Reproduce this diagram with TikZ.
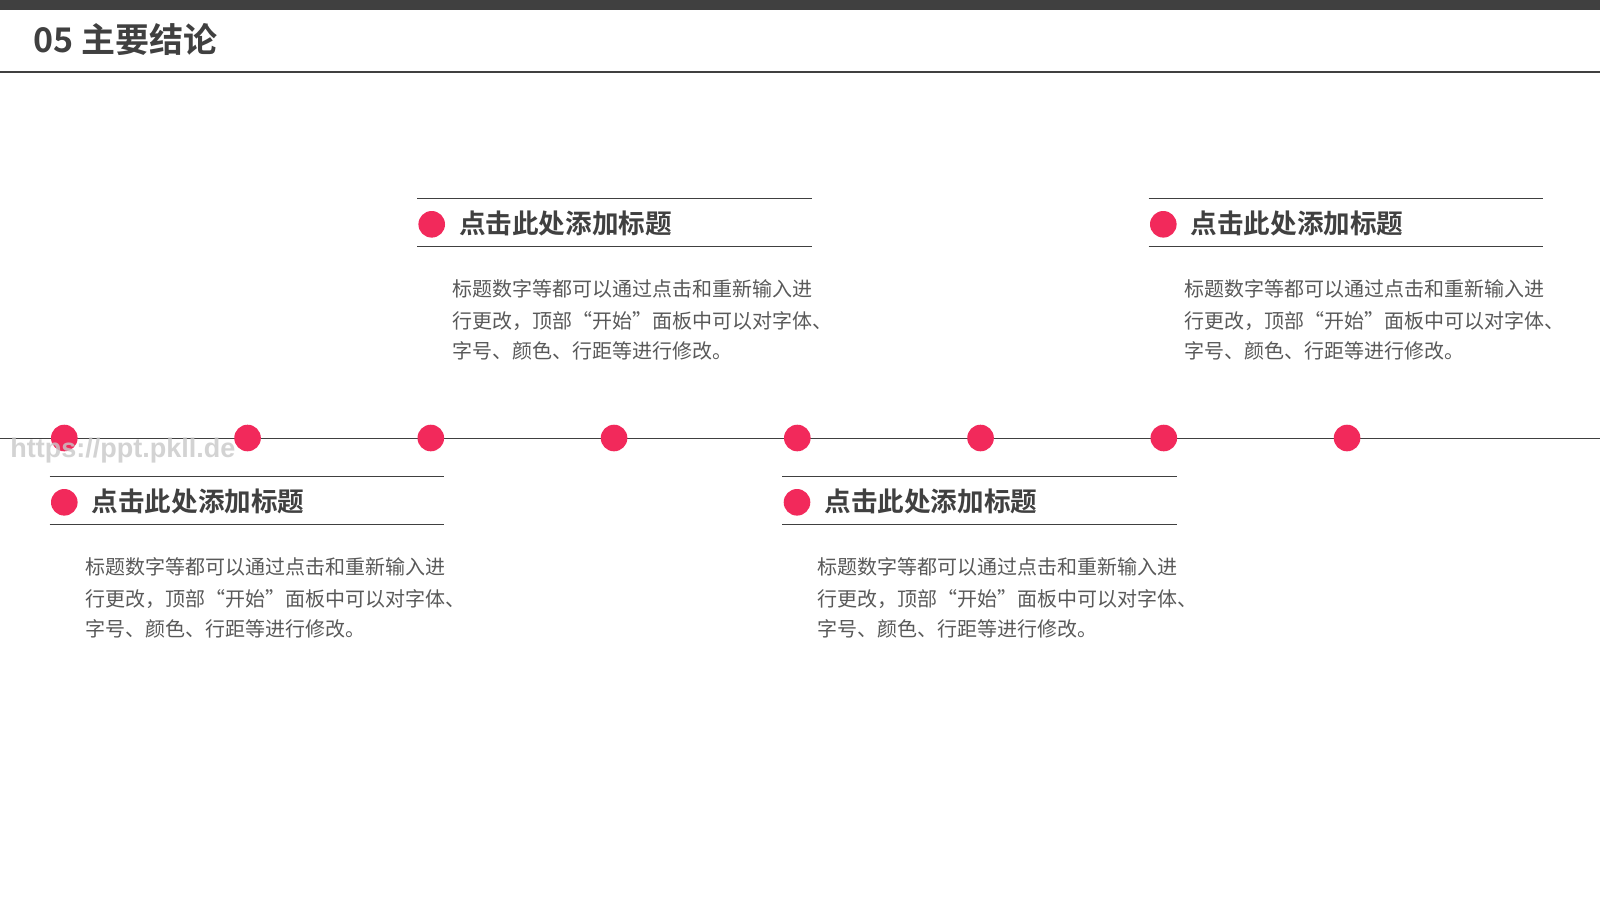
\documentclass[tikz,border=0pt]{standalone}
\usepackage{fontspec}
\setmainfont{Noto Sans CJK SC}[BoldFont={Noto Sans CJK SC Bold}]
\newfontfamily\wmfont{Liberation Sans}
\usetikzlibrary{calc}
\definecolor{accent}{HTML}{F2295B}
\definecolor{linegray}{HTML}{404040}
\definecolor{titlegray}{HTML}{404040}
\definecolor{bodygray}{HTML}{595959}
\definecolor{wmgray}{HTML}{C8C8C8}
\tikzset{
  dotnode/.style={circle,fill=accent,draw=none,minimum size=13.3pt,inner sep=0pt},
  ttlnode/.style={anchor=west,inner sep=0pt,font=\bfseries\fontsize{13.3}{16}\selectfont,text=titlegray},
  bodynode/.style={anchor=west,inner sep=0pt,font=\fontsize{10}{12}\selectfont,text=bodygray},
  rulepath/.style={draw=linegray,line width=0.6pt},
}
\newcommand\infoblock[3]{%
  \begin{scope}[shift={(#2,#3)}]
    \coordinate (#1tl) at (-14.7,-26);
    \coordinate (#1tr) at (380,-26);
    \coordinate (#1bl) at (-14.7,22.5);
    \coordinate (#1br) at (380,22.5);
    \draw[rulepath] (#1tl) -- (#1tr);
    \draw[rulepath] (#1bl) -- (#1br);
    \node[dotnode] (#1d) at (0,0) {};
    \node[ttlnode] (#1t) at (27,-1) {点击此处添加标题};
    \node[bodynode] (#1la) at (20.3,64.8) {标题数字等都可以通过点击和重新输入进};
    \node[bodynode] (#1lb) at (20.3,96.3) {行更改，顶部“开始”面板中可以对字体、};
    \node[bodynode] (#1lc) at (20.3,127) {字号、颜色、行距等进行修改。};
  \end{scope}}
\begin{document}
\begin{tikzpicture}[x=0.5pt,y=-0.5pt]
  \useasboundingbox (0,0) rectangle (1600,900);
  \fill[white] (0,0) rectangle (1600,900);
  % header
  \fill[linegray] (0,0) rectangle (1600,10);
  \node[anchor=west,inner sep=0pt,font=\bfseries\fontsize{17}{20}\selectfont,text=titlegray] (head) at (33,40) {05 主要结论};
  \coordinate (hl) at (0,72);
  \coordinate (hr) at (1600,72);
  \draw[draw=linegray,line width=0.7pt] (hl) -- (hr);
  % timeline
  \coordinate (tl) at (0,438);
  \coordinate (tr) at (1600,438);
  \draw[draw=linegray,line width=0.5pt] (tl) -- (tr);
  \foreach \i in {0,...,7} {
    \node[dotnode] (p\i) at ({64.3+183.25*\i},438) {};
  }
  % blocks
  \infoblock{a}{431.7}{224.3}
  \infoblock{b}{1163.3}{224.3}
  \infoblock{c}{64.3}{502.3}
  \infoblock{d}{797}{502.3}
  % watermark
  \node[anchor=base west,inner sep=0pt,font=\wmfont\bfseries\fontsize{13.5}{16}\selectfont,text=wmgray,opacity=0.8] (wm) at (10,457) {https://ppt.pkll.de};
\end{tikzpicture}
\end{document}
